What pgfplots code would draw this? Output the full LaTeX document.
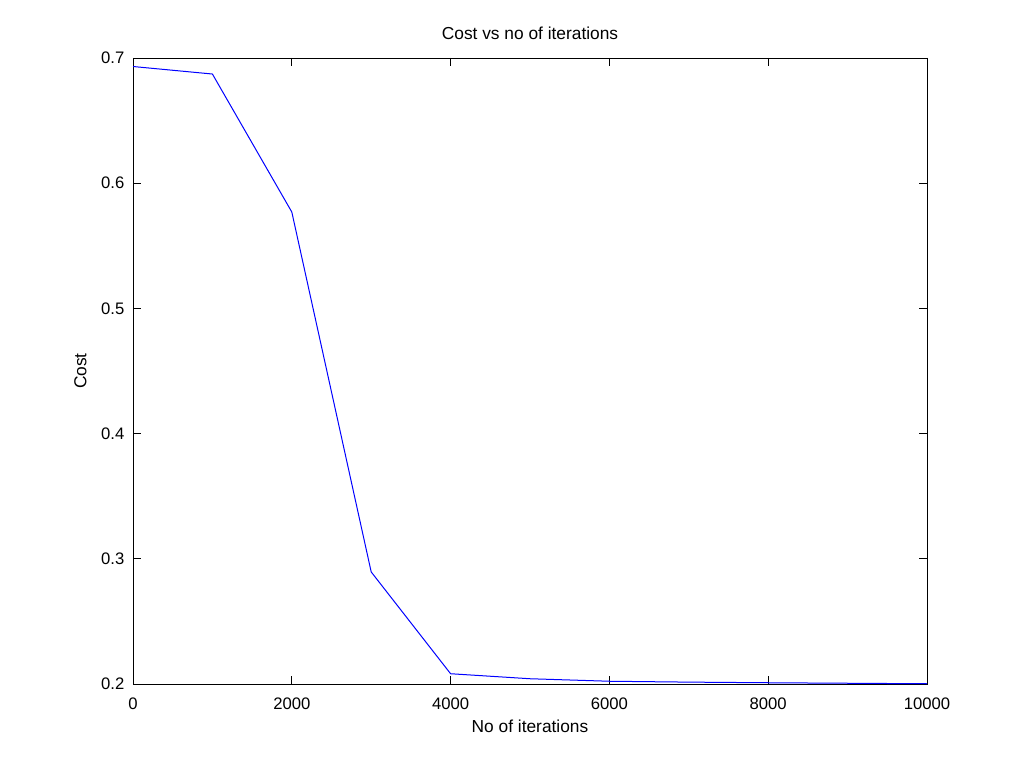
\documentclass[border=0pt]{standalone}
\usepackage{fontspec}
\setmainfont{Liberation Sans}
\usepackage{pgfplots}
\pgfplotsset{compat=1.18}
\begin{document}
\begin{tikzpicture}
\path[use as bounding box] (0pt,0pt) rectangle (768pt,576pt);
\begin{axis}[
  at={(99.75pt,63pt)}, anchor=south west,
  scale only axis, width=595.5pt, height=469.5pt,
  xmin=0, xmax=10000, ymin=0.2, ymax=0.7,
  xtick={0,2000,...,10000}, ytick={0.2,0.3,...,0.7},
  scaled ticks=false,
  /pgf/number format/assume math mode=true,
  x tick label style={/pgf/number format/1000 sep={}, yshift=-6.5pt},
  y tick label style={/pgf/number format/fixed, /pgf/number format/precision=1, xshift=-3pt},
  tick align=inside, major tick length=6pt,
  tick style={black, line width=0.6pt},
  axis line style={black, line width=0.6pt},
  ticklabel style={font=\fontsize{12.5}{14}\selectfont},
  label style={font=\fontsize{13}{15}\selectfont},
  title style={font=\fontsize{13}{15}\selectfont, yshift=4pt},
  title={Cost vs no of iterations},
  xlabel={No of iterations}, ylabel={Cost},
  xlabel style={yshift=-1pt},
  ylabel style={yshift=4pt},
]
\addplot[color={rgb,255:red,0;green,0;blue,255}, line width=0.75pt] coordinates {
(0,0.6932) (1000,0.6872) (2000,0.5770) (3000,0.2895) (4000,0.2082)
(5000,0.2042) (6000,0.2022) (7000,0.2015) (8000,0.2010) (9000,0.2006) (10000,0.2002)
};
\end{axis}
\end{tikzpicture}
\end{document}
